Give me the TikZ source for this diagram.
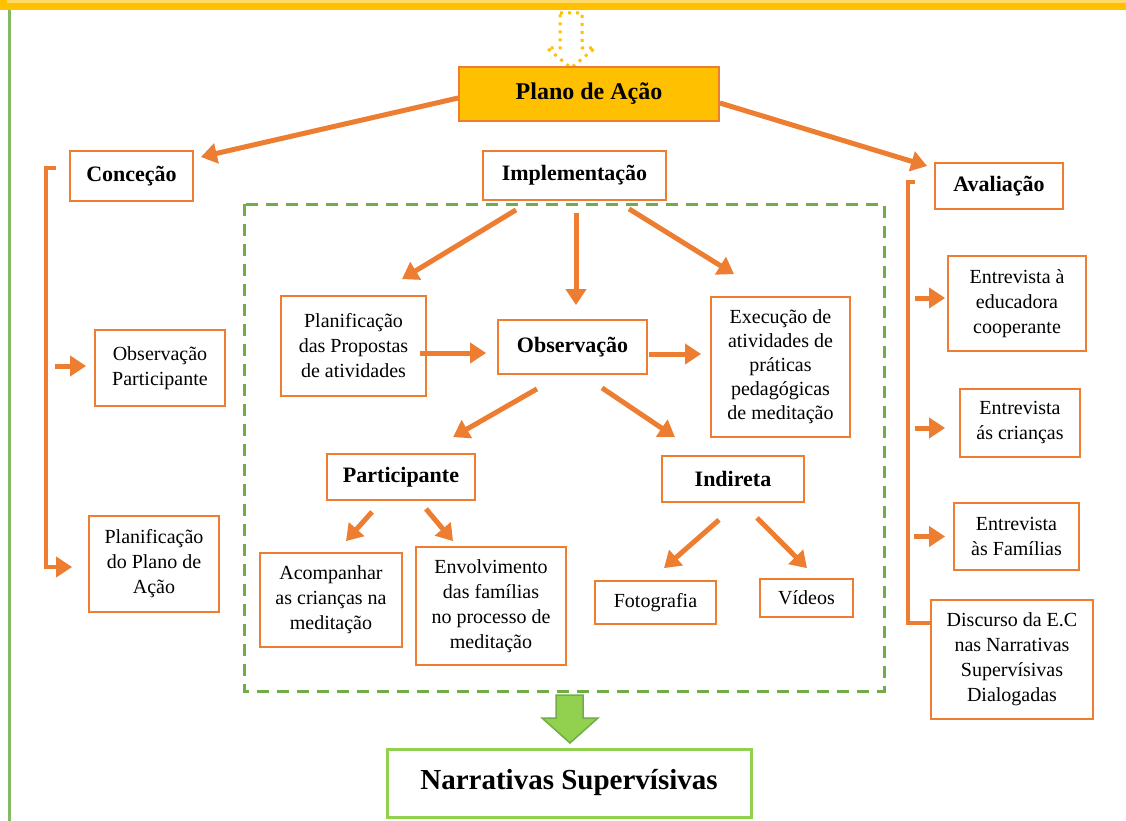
\documentclass[tikz,border=0pt]{standalone}
\usepackage{fontspec}
\setmainfont{Liberation Serif}
\usetikzlibrary{arrows.meta,calc}
\definecolor{orng}{RGB}{237,125,49}
\definecolor{gold}{RGB}{255,192,0}
\definecolor{lgold}{RGB}{255,217,102}
\definecolor{grn}{RGB}{112,173,71}
\definecolor{lgrn}{RGB}{146,208,80}
\newcommand\mytxt{\fontsize{20}{25}\selectfont}
\newcommand\mybold{\fontsize{22}{25}\selectfont\bfseries}
\tikzset{
  box/.style={draw=orng, line width=1.8pt, fill=white, align=center, inner sep=0pt, font=\mytxt},
  bbox/.style={box, font=\mybold},
  arr/.style={draw=orng, line width=5pt, -{Triangle[length=16pt,width=20pt]}},
  brk/.style={draw=orng, line width=4.5pt},
}
\begin{document}
\begin{tikzpicture}[x=1pt,y=-1pt]
\useasboundingbox (0,0) rectangle (1126,821);
% top band and left line
\fill[gold] (0,0) rectangle (1126,10);
\fill[lgold] (7,0) rectangle (1126,3);
\fill[grn!85] (7.5,10) rectangle (10.5,821);
% dotted arrow
\draw[gold, line width=3pt, dash pattern=on 3pt off 5pt]
  (560,13) -- (582,13) -- (582,48) -- (595,48) -- (571,68) -- (547,48) -- (560,48) -- cycle;
% dashed frame
\draw[grn, line width=3pt, dash pattern=on 12pt off 8pt] (244,204) rectangle (884,691);
% nodes
\node[box, fill=gold, font=\fontsize{24}{28}\selectfont\bfseries, minimum width=260, minimum height=54] (plano) at (589,94) {Plano de Ação};
\node[bbox, minimum width=123, minimum height=50] (concecao) at (131.5,176) {Conceção};
\node[box, minimum width=130, minimum height=76] (obspart) at (160,368) {Observação\\Participante};
\node[box, minimum width=130, minimum height=96] (planplano) at (154,564) {Planificação\\do Plano de\\Ação};
\node[bbox, minimum width=183, minimum height=49] (impl) at (574.5,175.5) {Implementação};
\node[bbox, minimum width=128, minimum height=46] (aval) at (999,186) {Avaliação};
\node[box, minimum width=138, minimum height=95] (educ) at (1017,303.5) {Entrevista à\\educadora\\cooperante};
\node[box, minimum width=120, minimum height=68] (criancas) at (1020,423) {Entrevista\\ás crianças};
\node[box, minimum width=125, minimum height=67] (familias) at (1016.5,536.5) {Entrevista\\às Famílias};
\node[box, minimum width=162, minimum height=119] (discurso) at (1012,659.5) {Discurso da E.C\\nas Narrativas\\Supervísivas\\Dialogadas};
\node[box, minimum width=145, minimum height=100] (planprop) at (353.5,346) {Planificação\\das Propostas\\de atividades};
\node[bbox, minimum width=149, minimum height=54] (obs) at (572.5,347) {Observação};
\node[box, minimum width=139, minimum height=140, font=\fontsize{20}{24}\selectfont] (exec) at (780.5,367) {Execução de\\atividades de\\práticas\\pedagógicas\\de meditação};
\node[bbox, minimum width=148, minimum height=46] (part) at (401,477) {Participante};
\node[bbox, minimum width=142, minimum height=46] (indireta) at (733,479) {Indireta};
\node[box, minimum width=142, minimum height=94] (acomp) at (331,600) {Acompanhar\\as crianças na\\meditação};
\node[box, minimum width=150, minimum height=118] (envolv) at (491,606) {Envolvimento\\das famílias\\no processo de\\meditação};
\node[box, minimum width=121, minimum height=43] (foto) at (655.5,602.5) {Fotografia};
\node[box, minimum width=93, minimum height=38] (videos) at (806.5,598) {Vídeos};
\node[box, draw=lgrn, line width=3pt, font=\fontsize{29}{32}\selectfont\bfseries, minimum width=364, minimum height=68] (narr) at (569,783) {Narrativas Supervísivas};
% green block arrow
\draw[grn, line width=1.5pt, fill=lgrn] (556,695) -- (583,695) -- (583,718) -- (598,718) -- (570,743) -- (542,718) -- (556,718) -- cycle;
% arrows
\draw[arr] ($(plano.west)+(0,4)$) -- ($(concecao.east)+(7,-19)$);
\draw[arr] ($(plano.east)+(0,9)$) -- ($(aval.west)+(-7,-20)$);
\draw[arr] ($(impl.south)+(-58.5,9)$) -- ($(planprop.north)+(48.5,-16)$);
\draw[arr] ($(impl.south)+(1.5,12)$) -- ($(obs.north)+(3.5,-14)$);
\draw[arr] ($(impl.south)+(54.5,8)$) -- ($(exec.north)+(-46.5,-22)$);
\draw[arr] ($(planprop.east)+(-7,7)$) -- ($(obs.west)+(-11,6)$);
\draw[arr] ($(obs.east)+(1,7)$) -- ($(exec.west)+(-9,-13)$);
\draw[arr] ($(obs.south)+(-35.5,14)$) -- ($(part.north)+(52,-16)$);
\draw[arr] ($(obs.south)+(29.5,13)$) -- ($(indireta.north)+(-58,-18)$);
\draw[arr] ($(part.south)+(-29,11)$) -- ($(acomp.north)+(15,-11)$);
\draw[arr] ($(part.south)+(25,8)$) -- ($(envolv.north)+(-38,-5)$);
\draw[arr] ($(indireta.south)+(-14,17)$) -- ($(foto.north)+(8.5,-12)$);
\draw[arr] ($(indireta.south)+(24,15)$) -- ($(videos.north)+(0.5,-10)$);
% left bracket
\draw[brk, -{Triangle[length=16pt,width=20pt]}] ($(concecao.west)+(-13,-8)$) -- ++(-10,0) |- ($(planplano.west)+(-16,3)$);
\draw[arr] ($(obspart.west)+(-39,-2)$) -- ($(obspart.west)+(-8,-2)$);
% right bracket
\draw[brk] ($(aval.west)+(-19,-4)$) -- ++(-7,0) |- ($(discurso.west)+(0,-36.5)$);
\draw[arr] ($(educ.west)+(-32,-5.5)$) -- ($(educ.west)+(-2,-5.5)$);
\draw[arr] ($(criancas.west)+(-44,5)$) -- ($(criancas.west)+(-14,5)$);
\draw[arr] ($(familias.west)+(-39,0)$) -- ($(familias.west)+(-8,0)$);
\end{tikzpicture}
\end{document}
